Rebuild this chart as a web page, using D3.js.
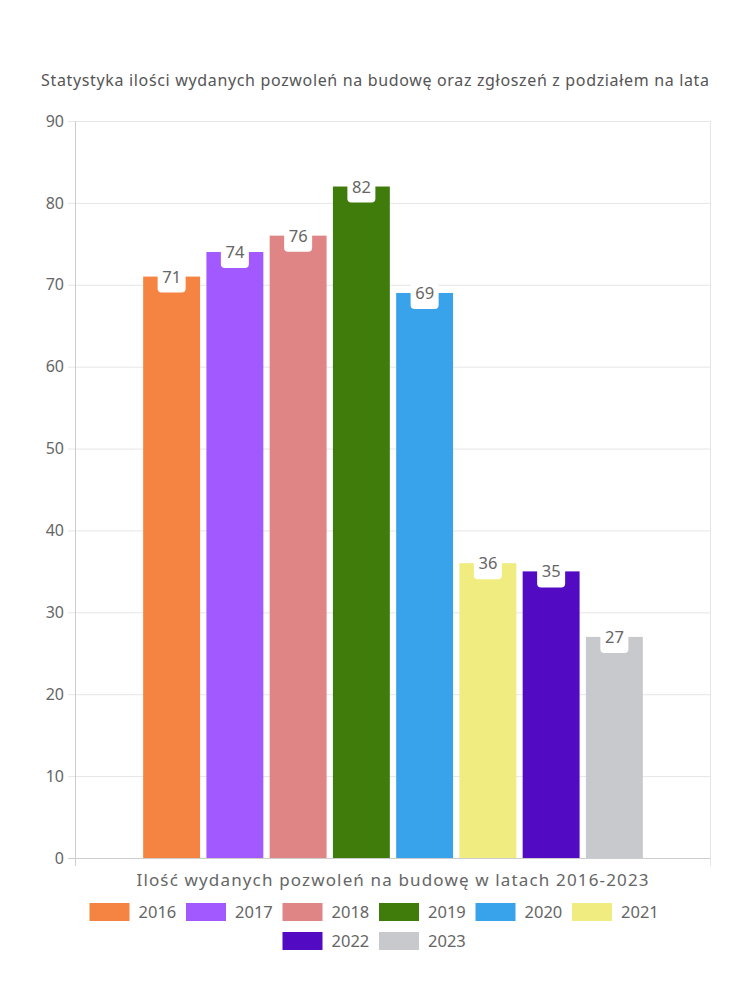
<!DOCTYPE html>
<html><head><meta charset="utf-8">
<script src="https://cdn.jsdelivr.net/npm/d3@7"></script>
<style>body{margin:0;background:#fff}svg{display:block}text{font-family:"Noto Sans",sans-serif}</style>
</head><body><svg id="c" width="750" height="1000"></svg>
<script>
const years = ["2016","2017","2018","2019","2020","2021","2022","2023"];
const values = [71,74,76,82,69,36,35,27];
const colors = ["#f58442","#a259ff","#e08585","#3f7c0c","#38a3eb","#f0ec7f","#520ac2","#c8c9cc"];
const yTicks = [0,10,20,30,40,50,60,70,80,90];
const title = "Statystyka ilości wydanych pozwoleń na budowę oraz zgłoszeń z podziałem na lata";
const xTitle = "Ilość wydanych pozwoleń na budowę w latach 2016-2023";

const svg = d3.select("#c");
const L = 75, R = 710, T = 121, B = 858;
const y = d3.scaleLinear().domain([0,90]).range([B,T]);
const x = d3.scaleBand().domain(years).range([140, 646]).paddingInner(0.1).paddingOuter(0.05);

svg.append("text").attr("x",375).attr("y",86).attr("text-anchor","middle")
  .attr("font-size",16).attr("fill","#555").attr("textLength",668).attr("lengthAdjust","spacing").text(title);

// grid
const g = svg.append("g");
g.selectAll("line.h").data(yTicks).join("line").attr("class","h")
  .attr("x1",L-7).attr("x2",R).attr("y1",d=>y(d)+0.5).attr("y2",d=>y(d)+0.5)
  .attr("stroke",d=>d===0?"#ccc":"#e6e6e6");
g.append("line").attr("x1",L+0.5).attr("x2",L+0.5).attr("y1",T).attr("y2",B+8).attr("stroke","#ccc");
g.append("line").attr("x1",R+0.5).attr("x2",R+0.5).attr("y1",T).attr("y2",B+8).attr("stroke","#e6e6e6");

// y axis labels
const yAxis = d3.axisLeft(y).tickValues(yTicks).tickSize(0).tickPadding(0);
const ya = svg.append("g").attr("transform",`translate(${L-11},0)`).call(yAxis);
ya.select(".domain").remove();
ya.selectAll("text").attr("font-size",16).attr("fill","#666").attr("font-family","Noto Sans, sans-serif");

// bars
svg.selectAll("rect.bar").data(values).join("rect").attr("class","bar")
  .attr("x",(d,i)=>x(years[i])).attr("width",x.bandwidth())
  .attr("y",d=>y(d)).attr("height",d=>B-y(d)).attr("fill",(d,i)=>colors[i]);

// data labels
const lab = svg.selectAll("g.lab").data(values).join("g").attr("class","lab")
  .attr("transform",(d,i)=>`translate(${x(years[i])+x.bandwidth()/2},${y(d)})`);
lab.append("rect").attr("x",-14).attr("y",-14).attr("width",28).attr("height",30).attr("rx",4).attr("fill","#fff");
lab.append("text").attr("y",6).attr("text-anchor","middle").attr("font-size",16.5).attr("fill","#666").text(d=>d);

// x title
svg.append("text").attr("x",(L+R)/2).attr("y",886).attr("text-anchor","middle")
  .attr("font-size",17).attr("fill","#666").attr("textLength",512).attr("lengthAdjust","spacing").text(xTitle);

// legend
const rows = [years.slice(0,6), years.slice(6)];
const itemW = 96.5;
rows.forEach((row,ri)=>{
  const total = row.length*itemW - 10;
  const start = 375 - total/2 - 1;
  const gy = 903 + ri*29;
  row.forEach((yr,j)=>{
    const i = years.indexOf(yr);
    const gx = start + j*itemW;
    svg.append("rect").attr("x",gx).attr("y",gy).attr("width",40).attr("height",18).attr("fill",colors[i]);
    svg.append("text").attr("x",gx+49).attr("y",gy+15).attr("font-size",16.5).attr("fill","#666").text(yr);
  });
});
</script></body></html>
